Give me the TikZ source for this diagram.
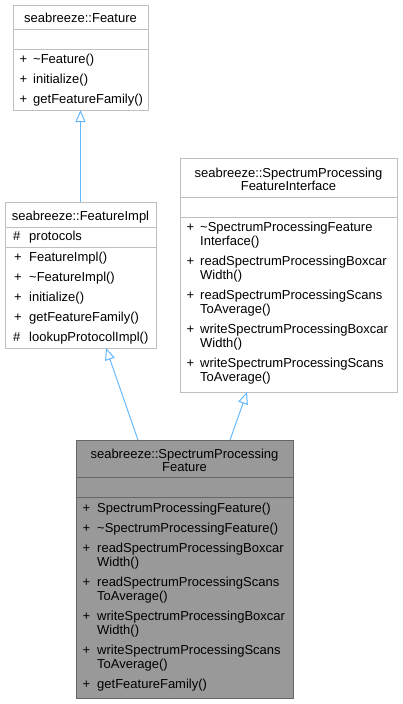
\documentclass[tikz,border=0pt]{standalone}
\usepackage{fontspec}
\setmainfont{Liberation Sans}
\usetikzlibrary{arrows.meta}
\definecolor{edgeblue}{HTML}{63B8FF}
\definecolor{boxline}{HTML}{BFBFBF}
\definecolor{mainfill}{HTML}{999999}
\definecolor{mainline}{HTML}{666666}
\tikzset{
  classbox/.style={draw=boxline, line width=0.9pt, fill=white},
  mainbox/.style={draw=mainline, line width=0.9pt, fill=mainfill},
  sepline/.style={draw=boxline, line width=0.9pt},
  mainsep/.style={draw=mainline, line width=0.9pt},
  txt/.style={inner sep=0pt, anchor=base west, font=\fontsize{13}{14}\selectfont},
  ttl/.style={inner sep=0pt, anchor=base, font=\fontsize{13}{14}\selectfont},
  inherit/.style={draw=edgeblue, line width=1pt, -{Triangle[open, length=12pt, width=10pt, fill=white]}}
}
\begin{document}
\begin{tikzpicture}[x=1pt, y=-1pt]
\useasboundingbox (0,0) rectangle (402,704);
% ---------- Feature
\draw[classbox] (13,5) rectangle (148,110);
\draw[sepline] (13,29) -- (148,29);
\draw[sepline] (13,49) -- (148,49);
\node[ttl] (ftitle) at (80.5,22) {seabreeze::Feature};
\node[txt] (f1s) at (19.5,63) {+}; \node[txt] (f1) at (33,63) {\textasciitilde Feature()};
\node[txt] (f2s) at (19.5,83) {+}; \node[txt] (f2) at (33,83) {initialize()};
\node[txt] (f3s) at (19.5,103) {+}; \node[txt] (f3) at (33,103) {getFeatureFamily()};
\coordinate (fbot) at (80.5,110);
% ---------- FeatureImpl
\draw[classbox] (5,202) rectangle (156,348);
\draw[sepline] (5,227) -- (156,227);
\draw[sepline] (5,247) -- (156,247);
\node[ttl] (fititle) at (80.5,220) {seabreeze::FeatureImpl};
\node[txt] (fi0s) at (13,240) {\#}; \node[txt] (fi0) at (29,240) {protocols};
\node[txt] (fi1s) at (14,261) {+}; \node[txt] (fi1) at (29,261) {FeatureImpl()};
\node[txt] (fi2s) at (14,281) {+}; \node[txt] (fi2) at (29,281) {\textasciitilde FeatureImpl()};
\node[txt] (fi3s) at (14,301) {+}; \node[txt] (fi3) at (29,301) {initialize()};
\node[txt] (fi4s) at (14,321) {+}; \node[txt] (fi4) at (29,321) {getFeatureFamily()};
\node[txt] (fi5s) at (13,341) {\#}; \node[txt] (fi5) at (29,341) {lookupProtocolImpl()};
\coordinate (fitop) at (80.5,202);
\coordinate (fibot) at (106,348);
% ---------- SpectrumProcessingFeatureInterface
\draw[classbox] (180,158) rectangle (397,392);
\draw[sepline] (180,197) -- (397,197);
\draw[sepline] (180,217) -- (397,217);
\node[ttl] (ititle1) at (288.5,177) {seabreeze::SpectrumProcessing};
\node[ttl] (ititle2) at (288.5,190) {FeatureInterface};
\node[txt] (i1s) at (186.5,231) {+}; \node[txt] (i1) at (200,231) {\textasciitilde SpectrumProcessingFeature};
\node[txt] (i1b) at (200,245) {Interface()};
\node[txt] (i2s) at (186.5,265) {+}; \node[txt] (i2) at (200,265) {readSpectrumProcessingBoxcar};
\node[txt] (i2b) at (200,279) {Width()};
\node[txt] (i3s) at (186.5,299) {+}; \node[txt] (i3) at (200,299) {readSpectrumProcessingScans};
\node[txt] (i3b) at (200,313) {ToAverage()};
\node[txt] (i4s) at (186.5,333) {+}; \node[txt] (i4) at (200,333) {writeSpectrumProcessingBoxcar};
\node[txt] (i4b) at (200,347) {Width()};
\node[txt] (i5s) at (186.5,367) {+}; \node[txt] (i5) at (200,367) {writeSpectrumProcessingScans};
\node[txt] (i5b) at (200,381) {ToAverage()};
\coordinate (ibot) at (247,392);
% ---------- SpectrumProcessingFeature (main)
\draw[mainbox] (76,440) rectangle (293,698);
\draw[mainsep] (76,477) -- (293,477);
\draw[mainsep] (76,497) -- (293,497);
\node[ttl] (mtitle1) at (184.5,458) {seabreeze::SpectrumProcessing};
\node[ttl] (mtitle2) at (184.5,471) {Feature};
\node[txt] (m1s) at (82.5,512) {+}; \node[txt] (m1) at (97,512) {SpectrumProcessingFeature()};
\node[txt] (m2s) at (82.5,532) {+}; \node[txt] (m2) at (97,532) {\textasciitilde SpectrumProcessingFeature()};
\node[txt] (m3s) at (82.5,552) {+}; \node[txt] (m3) at (97,552) {readSpectrumProcessingBoxcar};
\node[txt] (m3b) at (97,566) {Width()};
\node[txt] (m4s) at (82.5,586) {+}; \node[txt] (m4) at (97,586) {readSpectrumProcessingScans};
\node[txt] (m4b) at (97,600) {ToAverage()};
\node[txt] (m5s) at (82.5,620) {+}; \node[txt] (m5) at (97,620) {writeSpectrumProcessingBoxcar};
\node[txt] (m5b) at (97,634) {Width()};
\node[txt] (m6s) at (82.5,654) {+}; \node[txt] (m6) at (97,654) {writeSpectrumProcessingScans};
\node[txt] (m6b) at (97,668) {ToAverage()};
\node[txt] (m7s) at (82.5,688) {+}; \node[txt] (m7) at (97,688) {getFeatureFamily()};
\coordinate (mtopl) at (138,440);
\coordinate (mtopr) at (230,440);
% ---------- inheritance edges
\draw[inherit] (fitop) -- (fbot);
\draw[inherit] (mtopl) -- (fibot);
\draw[inherit] (mtopr) -- (ibot);
\end{tikzpicture}
\end{document}
